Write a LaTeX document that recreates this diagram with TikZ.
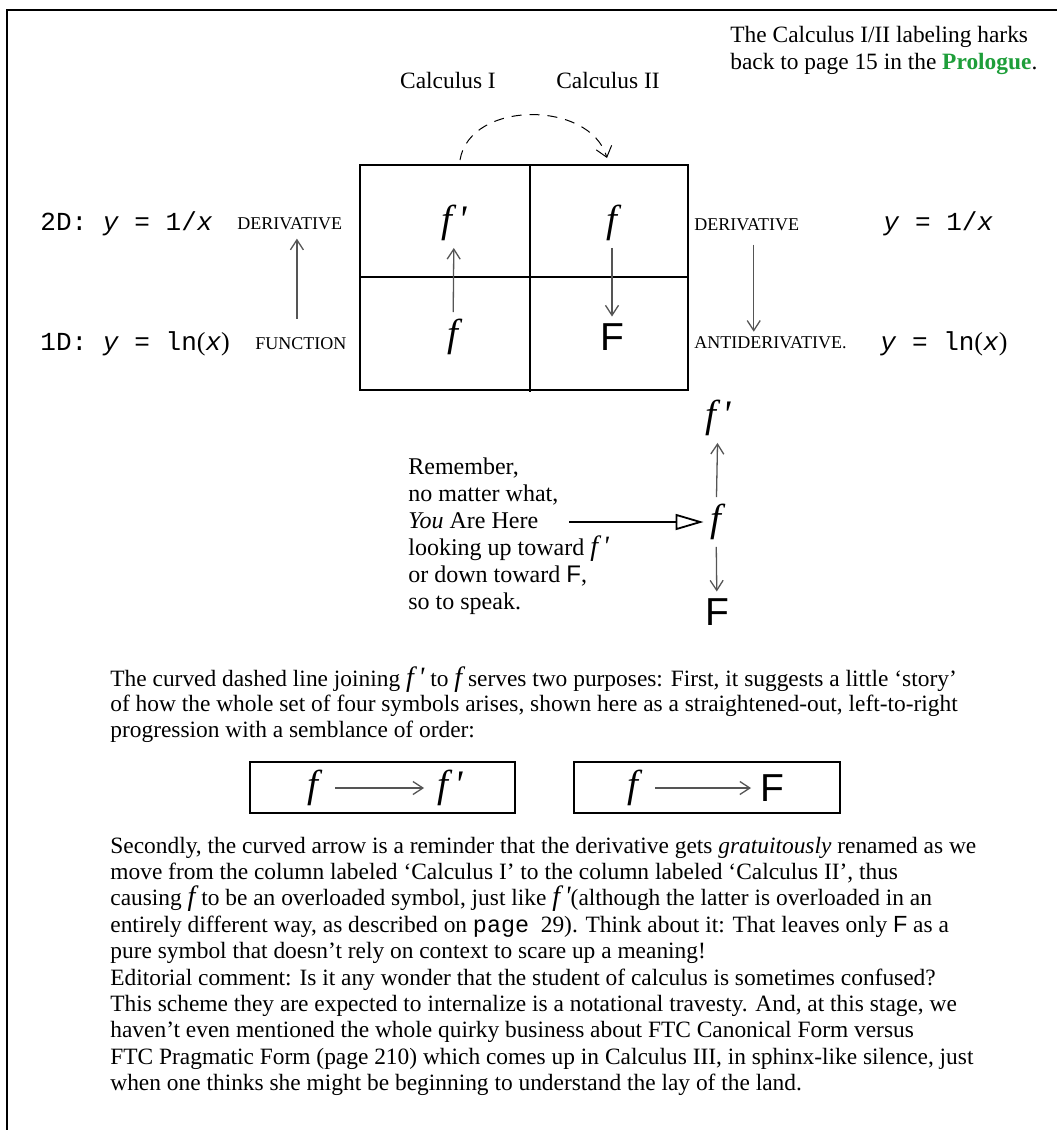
\documentclass[tikz,border=0pt]{standalone}
\usepackage{fontspec}
\setmainfont{Liberation Serif}
\setsansfont{Liberation Sans}
\setmonofont{Liberation Mono}
\usetikzlibrary{arrows.meta}
\definecolor{prologgreen}{HTML}{1E9E3A}
\definecolor{arrowgray}{HTML}{555555}
\newcommand{\fsym}{{\fontsize{14}{14}\selectfont\itshape f}}
\newcommand{\fprime}{{\fontsize{14}{14}\selectfont\itshape f\,\textquotesingle}}
\newcommand{\Fsym}{\textsf{F}}

\begin{document}
\begin{tikzpicture}[x=0.5pt, y=-0.5pt,
  bodytext/.style={anchor=base west, inner sep=0pt, font=\fontsize{11.7}{13.2}\selectfont},
  youtext/.style={anchor=base west, inner sep=0pt, font=\fontsize{12}{13.5}\selectfont},
  caplabel/.style={anchor=base west, font=\fontsize{9}{9}\selectfont},
  monolabel/.style={anchor=base west, inner sep=0pt, font=\ttfamily\fontsize{13}{13}\selectfont},
  bigsym/.style={font=\fontsize{19.5}{19.5}\selectfont},
  grayarrow/.style={draw=arrowgray, line width=0.65pt, -{Straight Barb[length=5pt,width=6.5pt]}}]
  \useasboundingbox (0,0) rectangle (1057,1130);

  % Frame
  \draw[line width=1pt] (7,1130) -- (7,10) -- (1057,10);

  % Note at the top right
  \node[bodytext] (note1) at (730,42) {The Calculus I/II labeling harks};
  \node[bodytext] (note2) at (730,69) {back to page 15 in the \textcolor{prologgreen}{\textbf{Prologue}}.};

  % Column heads
  \node[bodytext, anchor=base] (calcI) at (448,88) {Calculus I};
  \node[bodytext, anchor=base] (calcII) at (608,88) {Calculus II};

  % The four cells
  \draw[line width=1pt] (360,165) rectangle (688,390);
  \draw[line width=1pt] (360,277) -- (688,277);
  \draw[line width=1pt] (530,165) -- (530,392);
  \node[bigsym] (topfp) at (454,223) {\itshape f\,\textquotesingle};
  \node[bigsym] (topf) at (612,223) {\itshape f};
  \node[bigsym] (lowf) at (453,337) {\itshape f};
  \node[bigsym] (lowF) at (612,337) {\sffamily F};
  \draw[grayarrow] (lowf) -- (topfp);
  \draw[grayarrow] (topf) -- (lowF);

  % Curved dashed arrow
  \coordinate (arcL) at (460,160);
  \coordinate (arcR) at (607,158);
  \draw[line width=0.5pt, dash pattern=on 5pt off 4pt, -{Straight Barb[length=5pt,width=8pt]}]
    (arcL) .. controls (470,100) and (590,100) .. (arcR);

  % Left side
  \node[monolabel] (left2D) at (40,230) {2D: \textit{y} = 1/\textit{x}};
  \node[monolabel] (left1D) at (40,350) {1D: \textit{y} = ln{\rmfamily(}\textit{x}{\rmfamily)}};
  \node[caplabel, inner sep=0pt] (lderiv) at (237,229) {DERIVATIVE};
  \node[caplabel, inner sep=0pt] (lfunc) at (255,349) {FUNCTION};
  \draw[grayarrow, shorten <=9pt, shorten >=4.5pt] ([xshift=-2pt]lfunc.north) -- ([xshift=-2pt]lfunc.north |- lderiv.south);

  % Right side
  \node[caplabel, inner sep=0pt] (rderiv) at (694,230) {DERIVATIVE};
  \node[caplabel, inner sep=0pt] (ranti) at (694,348) {ANTIDERIVATIVE.};
  \node[monolabel] (right2D) at (883,230) {\textit{y} = 1/\textit{x}};
  \node[monolabel] (right1D) at (880,350) {\textit{y} = ln{\rmfamily(}\textit{x}{\rmfamily)}};
  \draw[grayarrow, shorten <=7pt, shorten >=2pt] ([xshift=3.5pt]rderiv.south) -- ([xshift=3.5pt]rderiv.south |- ranti.north);

  % You Are Here
  \foreach \txt [count=\i from 0] in {{Remember,}, {no matter what,}, {\textit{You} Are Here},
      {looking up toward \fprime}, {or down toward \Fsym,}, {so to speak.}}
    \node[youtext] (here\i) at (408,{474+27*\i}) {\txt};
  \node[bigsym] (colfp) at (718,418) {\itshape f\,\textquotesingle};
  \node[bigsym] (colf) at (716,522) {\itshape f};
  \node[bigsym] (colF) at (717,612) {\sffamily F};
  \draw[grayarrow] (colf) -- (colfp);
  \draw[grayarrow] (colf) -- (colF);
  \coordinate (herearrow) at (569,522);
  \draw[line width=0.9pt, -{Triangle[open, length=14pt, width=8pt]}] (herearrow) -- (colf);

  % First paragraph
  \foreach \txt [count=\i from 0] in {
      {The curved dashed line joining \fprime{} to \fsym{} serves two purposes: First, it suggests a little ‘story’},
      {of how the whole set of four symbols arises, shown here as a straightened-out, left-to-right},
      {progression with a semblance of order:}}
    \node[bodytext] (story\i) at (110,{686+25.5*\i}) {\txt};

  % Straightened-out progressions
  \draw[line width=1pt] (250,762) rectangle (515,813);
  \draw[line width=1pt] (574,762) rectangle (840,813);
  \node[bigsym] (seqfa) at (313,788) {\itshape f};
  \node[bigsym] (seqfp) at (450,788) {\itshape f\,\textquotesingle};
  \node[bigsym] (seqfb) at (633,788) {\itshape f};
  \node[bigsym] (seqF) at (772,788) {\sffamily F};
  \draw[grayarrow, shorten <=5pt, shorten >=3pt] (seqfa) -- (seqfp);
  \draw[grayarrow, shorten <=5pt, shorten >=1pt] (seqfb) -- (seqF);

  % Second paragraph
  \foreach \txt [count=\i from 0] in {
      {Secondly, the curved arrow is a reminder that the derivative gets \textit{gratuitously} renamed as we},
      {move from the column labeled ‘Calculus I’ to the column labeled ‘Calculus II’, thus},
      {causing \fsym{} to be an overloaded symbol, just like \fprime(although the latter is overloaded in an},
      {entirely different way, as described on \texttt{page}~~29). Think about it: That leaves only \Fsym{} as a},
      {pure symbol that doesn’t rely on context to scare up a meaning!},
      {Editorial comment: Is it any wonder that the student of calculus is sometimes confused?},
      {This scheme they are expected to internalize is a notational travesty. And, at this stage, we},
      {haven’t even mentioned the whole quirky business about FTC Canonical Form versus},
      {FTC Pragmatic Form (page 210) which comes up in Calculus III, in sphinx-like silence, just},
      {when one thinks she might be beginning to understand the lay of the land.}}
    \node[bodytext] (second\i) at (110,{853+26.4*\i}) {\txt};
\end{tikzpicture}
\end{document}
